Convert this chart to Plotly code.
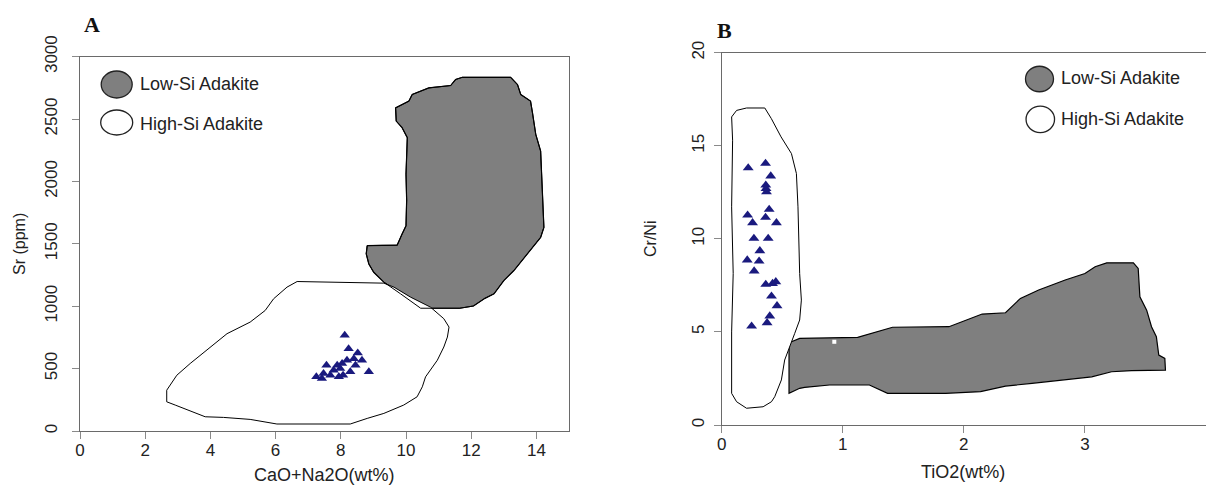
import plotly.graph_objects as go

W, H = 1206, 485

# ---------------- Panel A data ----------------
a_low_x = [8.81, 9.73, 9.88, 10.0, 10.02, 10.0, 10.04, 9.88, 9.70, 9.68, 10.09, 10.19, 10.70,
           11.37, 11.52, 11.73, 13.21, 13.42, 13.52, 13.82, 13.88, 13.98, 14.13, 14.18, 14.23,
           14.13, 13.72, 13.31, 13.0, 12.70, 12.42, 12.07, 11.65, 10.45, 9.83, 9.32, 9.01, 8.86,
           8.78, 8.81]
a_low_y = [1486, 1490, 1579, 1645, 1850, 2058, 2351, 2431, 2484, 2590, 2644, 2697, 2750,
           2769, 2817, 2835, 2835, 2777, 2697, 2644, 2550, 2378, 2244, 1871, 1632,
           1552, 1419, 1286, 1206, 1100, 1063, 1002, 984, 984, 1100, 1193, 1272, 1339,
           1420, 1486]

a_high_x = [2.66, 2.66, 2.92, 3.28, 3.84, 4.40, 5.22, 6.04, 8.29, 8.81, 9.32, 9.93, 10.34,
            10.50, 10.60, 10.96, 11.16, 11.27, 11.32, 11.16, 10.75, 10.14, 9.63, 9.32, 7.17,
            6.66, 6.35, 5.94, 5.68, 5.22, 4.51, 3.99, 3.38, 2.97, 2.71, 2.66]
a_high_y = [327, 234, 208, 173, 114, 109, 93, 56, 56, 101, 141, 208, 274,
            354, 434, 567, 673, 753, 833, 900, 993, 1073, 1153, 1185, 1193,
            1198, 1153, 1060, 966, 873, 780, 673, 541, 447, 354, 327]

a_pts_x = [8.12, 8.24, 8.52, 8.65, 8.40, 8.19, 8.04, 8.86, 8.29, 8.07, 7.89, 7.56, 7.78,
           7.68, 7.47, 7.25, 7.42, 7.94, 8.45, 7.98]
a_pts_y = [767, 660, 626, 567, 580, 567, 541, 474, 474, 447, 527, 527, 487,
           447, 461, 434, 421, 434, 527, 500]

a_xticks = [0, 2, 4, 6, 8, 10, 12, 14]
a_yticks = [0, 500, 1000, 1500, 2000, 2500, 3000]

# ---------------- Panel B data ----------------
b_low_x = [0.576, 0.644, 1.123, 1.288, 1.411, 1.877, 2.069, 2.151, 2.344, 2.467, 2.618, 2.837,
           3.0, 3.084, 3.18, 3.40, 3.44, 3.454, 3.51, 3.55, 3.59, 3.61, 3.66, 3.665,
           3.385, 3.22, 3.056, 2.837, 2.563, 2.344, 2.138, 1.85, 1.37, 1.22, 0.89, 0.685,
           0.644, 0.556, 0.556, 0.576]
b_low_y = [4.47, 4.65, 4.71, 5.01, 5.25, 5.28, 5.73, 5.96, 6.03, 6.8, 7.25, 7.79,
           8.14, 8.5, 8.71, 8.71, 8.41, 6.89, 6.17, 5.28, 4.74, 3.76, 3.58, 2.95,
           2.92, 2.86, 2.59, 2.42, 2.24, 2.09, 1.79, 1.70, 1.70, 2.15, 2.15, 2.02,
           1.97, 1.70, 4.40, 4.47]

b_high_x = [0.205, 0.356, 0.41, 0.49, 0.576, 0.617, 0.63, 0.635, 0.644, 0.658, 0.644, 0.603,
            0.562, 0.52, 0.493, 0.438, 0.411, 0.342, 0.205, 0.123, 0.082, 0.082, 0.095,
            0.082, 0.09, 0.082, 0.123, 0.205]
b_high_y = [17.03, 17.03, 16.46, 15.48, 14.58, 13.51, 11.72, 9.9, 8.14, 6.71, 5.64, 4.92,
            4.2, 3.49, 2.42, 1.52, 1.25, 0.98, 0.9, 1.25, 1.7, 5.0, 8.14,
            11.72, 15.3, 16.55, 16.9, 17.03]

b_pts_x = [0.219, 0.362, 0.405, 0.364, 0.37, 0.366, 0.214, 0.392, 0.362, 0.255, 0.452, 0.266,
           0.384, 0.315, 0.211, 0.309, 0.268, 0.364, 0.447, 0.42, 0.411, 0.457, 0.397, 0.375,
           0.247]
b_pts_y = [13.81, 14.05, 13.37, 12.88, 12.52, 12.7, 11.27, 11.58, 11.15, 10.86, 10.86, 10.02,
           10.02, 9.36, 8.86, 8.8, 8.27, 7.55, 7.69, 7.6, 6.92, 6.4, 5.85, 5.49,
           5.31]

b_spot_x = [0.93]
b_spot_y = [4.47]

b_xticks = [0, 1, 2, 3, 4]
b_yticks = [0, 5, 10, 15, 20]

legend_labels = ["Low-Si Adakite", "High-Si Adakite"]

# ---------------- styling ----------------
FONT = "Liberation Sans, Arial, sans-serif"
LOW_FILL = "#7f7f7f"
PT_COL = "#1a1a7e"
TXT = "#222222"


def px_x(X):
    return X / W


def px_y(Y):
    return 1 - Y / H


fig = go.Figure()

# Panel A
fig.add_trace(go.Scatter(x=a_low_x, y=a_low_y, mode="lines", fill="toself",
                         fillcolor=LOW_FILL, line=dict(color="black", width=1.2),
                         xaxis="x", yaxis="y", hoverinfo="skip"))
fig.add_trace(go.Scatter(x=a_high_x, y=a_high_y, mode="lines", fill="toself",
                         fillcolor="white", line=dict(color="black", width=1),
                         xaxis="x", yaxis="y", hoverinfo="skip"))
fig.add_trace(go.Scatter(x=a_low_x, y=a_low_y, mode="lines",
                         line=dict(color="black", width=1),
                         xaxis="x", yaxis="y", hoverinfo="skip"))
fig.add_trace(go.Scatter(x=a_pts_x, y=a_pts_y, mode="markers",
                         marker=dict(symbol="triangle-up", size=9, color=PT_COL,
                                     line=dict(width=0)),
                         xaxis="x", yaxis="y"))

# Panel B
fig.add_trace(go.Scatter(x=b_low_x, y=b_low_y, mode="lines", fill="toself",
                         fillcolor=LOW_FILL, line=dict(color="black", width=1.2),
                         xaxis="x2", yaxis="y2", hoverinfo="skip"))
fig.add_trace(go.Scatter(x=b_high_x, y=b_high_y, mode="lines", fill="toself",
                         fillcolor="white", line=dict(color="black", width=1),
                         xaxis="x2", yaxis="y2", hoverinfo="skip"))
fig.add_trace(go.Scatter(x=b_spot_x, y=b_spot_y, mode="markers",
                         marker=dict(symbol="square", size=4, color="white",
                                     line=dict(width=0)),
                         xaxis="x2", yaxis="y2", hoverinfo="skip"))
fig.add_trace(go.Scatter(x=b_pts_x, y=b_pts_y, mode="markers",
                         marker=dict(symbol="triangle-up", size=9.5, color=PT_COL,
                                     line=dict(width=0)),
                         xaxis="x2", yaxis="y2"))

axis_common = dict(showgrid=False, zeroline=False, showline=True, linecolor="#6a6a6a",
                   linewidth=1, ticks="outside", ticklen=7, tickwidth=1, automargin=False,
                   tickcolor="#8a8a8a", tickfont=dict(family=FONT, size=17, color=TXT))

# domains from pixel positions
a_x0, a_x1, a_y0, a_y1 = 80, 569, 56.7, 431
b_x0, b_x1, b_y0, b_y1 = 721.7, 1206, 52.7, 425

fig.update_layout(
    width=W, height=H, margin=dict(l=0, r=0, t=0, b=0, autoexpand=False),
    paper_bgcolor="white", plot_bgcolor="white", showlegend=False,
    xaxis=dict(domain=[px_x(a_x0), px_x(a_x1)], range=[0, 15], tickvals=a_xticks,
               mirror=True, anchor="y", ticklabelstandoff=-3, **axis_common),
    yaxis=dict(domain=[px_y(a_y1), px_y(a_y0)], range=[0, 3000], tickvals=a_yticks,
               mirror=True, anchor="x", tickangle=-90, ticklabelstandoff=8, **axis_common),
    xaxis2=dict(domain=[px_x(b_x0), px_x(b_x1)], range=[0, 4.0], tickvals=b_xticks,
                mirror=True, anchor="y2", ticklabelstandoff=-3, **axis_common),
    yaxis2=dict(domain=[px_y(b_y1), px_y(b_y0)], range=[0, 20], tickvals=b_yticks,
                mirror=False, anchor="x2", tickangle=-90, ticklabelstandoff=3, **axis_common),
)

annotations = []
shapes = []

letter_font = dict(family="Liberation Serif, Times New Roman, serif", size=22, color="#111")
annotations.append(dict(text="<b>A</b>", x=px_x(92), y=px_y(24), xref="paper", yref="paper",
                        xanchor="center", yanchor="middle", showarrow=False, font=letter_font))
annotations.append(dict(text="<b>B</b>", x=px_x(724), y=px_y(30), xref="paper", yref="paper",
                        xanchor="center", yanchor="middle", showarrow=False, font=letter_font))

xt_font = dict(family=FONT, size=18, color=TXT)
yt_font = dict(family=FONT, size=16, color=TXT)
annotations.append(dict(text="CaO+Na2O(wt%)", x=px_x(324), y=px_y(474.5), xref="paper", yref="paper",
                        xanchor="center", yanchor="middle", showarrow=False, font=xt_font))
annotations.append(dict(text="Sr (ppm)", x=px_x(19), y=px_y(244), xref="paper", yref="paper",
                        xanchor="center", yanchor="middle", textangle=-90, showarrow=False,
                        font=yt_font))
annotations.append(dict(text="TiO2(wt%)", x=px_x(963), y=px_y(472), xref="paper", yref="paper",
                        xanchor="center", yanchor="middle", showarrow=False, font=xt_font))
annotations.append(dict(text="Cr/Ni", x=px_x(650), y=px_y(239), xref="paper", yref="paper",
                        xanchor="center", yanchor="middle", textangle=-90, showarrow=False,
                        font=yt_font))

leg_font = dict(family=FONT, size=18, color=TXT)
legend_specs = [
    (116.7, 84.5, 31, 27, 138, 84, LOW_FILL),
    (116.7, 122.5, 32, 25, 138, 124, "white"),
    (1039.5, 79, 28, 25.5, 1059, 77.5, LOW_FILL),
    (1040.3, 119.3, 28.5, 26.5, 1059, 118.5, "white"),
]
for i, (cx, cy, w, h, tx, ty, fc) in enumerate(legend_specs):
    shapes.append(dict(type="circle", xref="paper", yref="paper",
                       x0=px_x(cx - w / 2), x1=px_x(cx + w / 2),
                       y0=px_y(cy + h / 2), y1=px_y(cy - h / 2),
                       fillcolor=fc, line=dict(color="#222", width=1.3)))
    annotations.append(dict(text=legend_labels[i % 2], x=px_x(tx), y=px_y(ty),
                            xref="paper", yref="paper", xanchor="left", yanchor="middle",
                            showarrow=False, font=leg_font))

fig.update_layout(annotations=annotations, shapes=shapes)

fig.write_html("out.html", config={"displayModeBar": False},
               post_script="document.body.style.margin='0';")
